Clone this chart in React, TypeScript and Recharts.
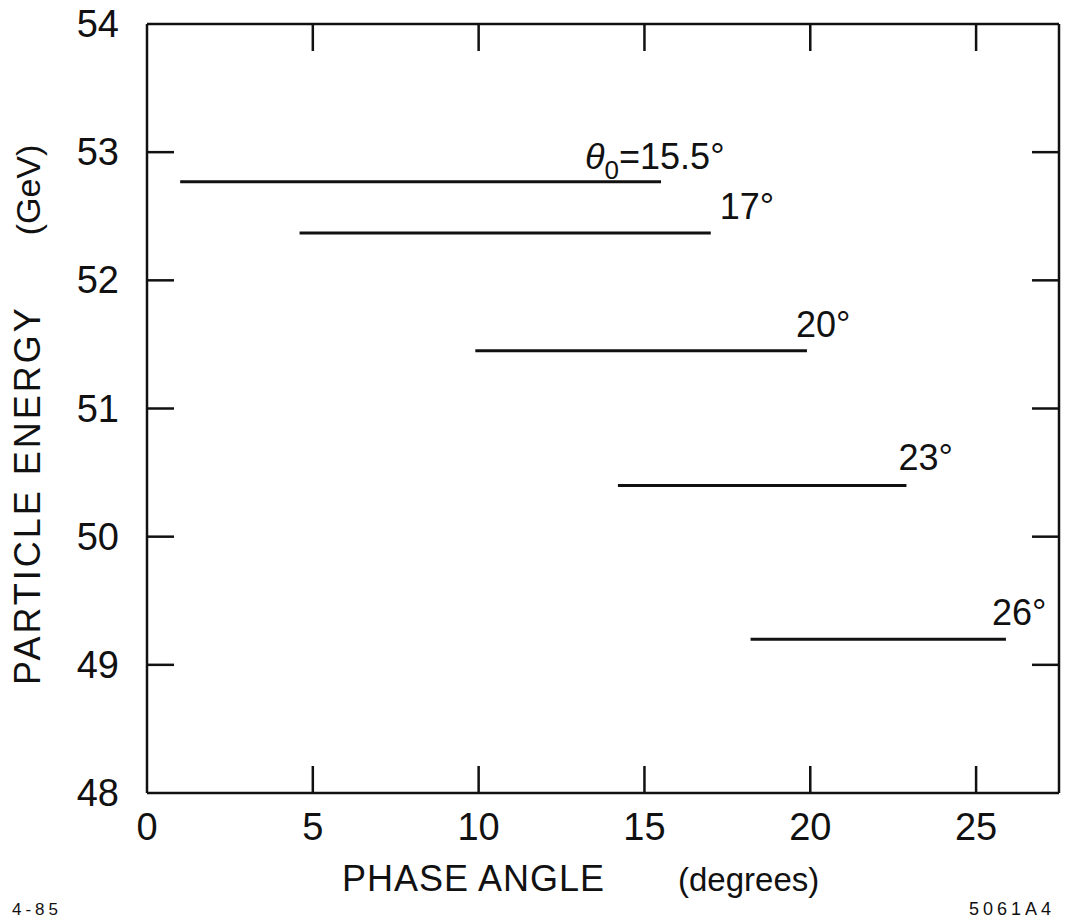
import { LineChart, Line, XAxis, YAxis } from "recharts"

// constant-energy segments, one per initial phase angle θ0
const curveAngles = ["15.5", "17", "20", "23", "26"]
const phaseStart = [1.0, 4.6, 9.9, 14.2, 18.2]
const phaseEnd = [15.5, 17.0, 19.9, 22.9, 25.9]
const energy = [52.77, 52.37, 51.45, 50.4, 49.2]

const xTicks = [0, 5, 10, 15, 20, 25]
const yTicks = [48, 49, 50, 51, 52, 53, 54]

// where each curve's label sits relative to the right end of its segment
const labelDx = [-76, 9, -11, -8, -14]
const labelDy = [-13, -14, -14, -15, -14]

const W = 1065
const H = 923
const FONT = "'Liberation Sans', Arial, sans-serif"
const INK = "#111"
const TICK_LEN = 27

const segments = curveAngles.map((a, i) => ({
  angle: a,
  data: [
    { x: phaseStart[i], y: energy[i] },
    { x: phaseEnd[i], y: energy[i] },
  ],
}))

function BottomTick(props: any) {
  const { x, y, payload } = props
  const edge = payload.value === 0
  return (
    <g>
      {!edge && <line x1={x} x2={x} y1={y} y2={y - TICK_LEN} stroke={INK} strokeWidth={2.5} />}
      <text x={x} y={y + 47} textAnchor="middle" fontFamily={FONT} fontSize={38} fill={INK}>
        {payload.value}
      </text>
    </g>
  )
}

function TopTick(props: any) {
  const { x, y, payload } = props
  if (payload.value === 0) return <g />
  return <line x1={x} x2={x} y1={y} y2={y + TICK_LEN} stroke={INK} strokeWidth={2.5} />
}

function LeftTick(props: any) {
  const { x, y, payload } = props
  const edge = payload.value === 48 || payload.value === 54
  return (
    <g>
      {!edge && <line x1={x} x2={x + TICK_LEN} y1={y} y2={y} stroke={INK} strokeWidth={2.5} />}
      <text x={x - 28} y={y + 13} textAnchor="end" fontFamily={FONT} fontSize={38} fill={INK}>
        {payload.value}
      </text>
    </g>
  )
}

function RightTick(props: any) {
  const { x, y, payload } = props
  if (payload.value === 48 || payload.value === 54) return <g />
  return <line x1={x} x2={x - TICK_LEN} y1={y} y2={y} stroke={INK} strokeWidth={2.5} />
}

function XTitle() {
  return (
    <g fontFamily={FONT} fill={INK}>
      <text x={342} y={891} fontSize={36} letterSpacing={1}>PHASE ANGLE</text>
      <text x={678} y={891} fontSize={33}>(degrees)</text>
      <text x={12} y={915} fontSize={17} letterSpacing={4}>4-85</text>
      <text x={1055} y={915} fontSize={18} letterSpacing={4} textAnchor="end">5061A4</text>
    </g>
  )
}

function YTitle() {
  return (
    <g fontFamily={FONT} fill={INK}>
      <text transform="translate(40,495) rotate(-90)" textAnchor="middle" fontSize={36} letterSpacing={3}>
        PARTICLE ENERGY
      </text>
      <text transform="translate(40,190) rotate(-90)" textAnchor="middle" fontSize={34}>
        (GeV)
      </text>
    </g>
  )
}

function makeEndLabel(i: number) {
  return (props: any) => {
    const { cx, cy, index } = props
    if (index !== 1) return <g key={`d-${i}-${index}`} />
    const tx = cx + labelDx[i]
    const ty = cy + labelDy[i]
    return (
      <text key={`d-${i}-${index}`} x={tx} y={ty} fontFamily={FONT} fontSize={36} fill={INK}>
        {i === 0 ? (
          <>
            <tspan fontStyle="italic">θ</tspan>
            <tspan fontSize={26} dy={10}>0</tspan>
            <tspan dy={-10}>=</tspan>
            <tspan>{curveAngles[i]}°</tspan>
          </>
        ) : (
          `${curveAngles[i]}°`
        )}
      </text>
    )
  }
}

export default function App() {
  return (
    <div style={{ position: "absolute", left: 0, top: 0, background: "#fff" }}>
      <LineChart width={W} height={H} margin={{ top: 23, right: 5, bottom: 0, left: 0 }}>
        <XAxis
          xAxisId="b"
          dataKey="x"
          type="number"
          domain={[0, 27.5]}
          ticks={xTicks}
          interval={0}
          height={130}
          tickSize={0}
          tickMargin={0}
          tickLine={false}
          axisLine={{ stroke: INK, strokeWidth: 2.5 }}
          tick={<BottomTick />}
          allowDataOverflow
          label={{ content: () => <XTitle /> }}
        />
        <XAxis
          xAxisId="t"
          orientation="top"
          dataKey="x"
          type="number"
          domain={[0, 27.5]}
          ticks={xTicks}
          interval={0}
          height={1}
          tickSize={0}
          tickMargin={0}
          tickLine={false}
          axisLine={{ stroke: INK, strokeWidth: 2.5 }}
          tick={<TopTick />}
          allowDataOverflow
        />
        <YAxis
          yAxisId="l"
          type="number"
          domain={[48, 54]}
          ticks={yTicks}
          interval={0}
          width={147}
          tickSize={0}
          tickMargin={0}
          tickLine={false}
          axisLine={{ stroke: INK, strokeWidth: 2.5 }}
          tick={<LeftTick />}
          allowDataOverflow
          label={{ content: () => <YTitle /> }}
        />
        <YAxis
          yAxisId="r"
          orientation="right"
          type="number"
          domain={[48, 54]}
          ticks={yTicks}
          interval={0}
          width={1}
          tickSize={0}
          tickMargin={0}
          tickLine={false}
          axisLine={{ stroke: INK, strokeWidth: 2.5 }}
          tick={<RightTick />}
          allowDataOverflow
        />
        {segments.map((s, i) => (
          <Line
            key={s.angle}
            xAxisId="b"
            yAxisId="l"
            data={s.data}
            dataKey="y"
            stroke={INK}
            strokeWidth={3}
            dot={makeEndLabel(i)}
            activeDot={false}
            isAnimationActive={false}
          />
        ))}
      </LineChart>
    </div>
  )
}
